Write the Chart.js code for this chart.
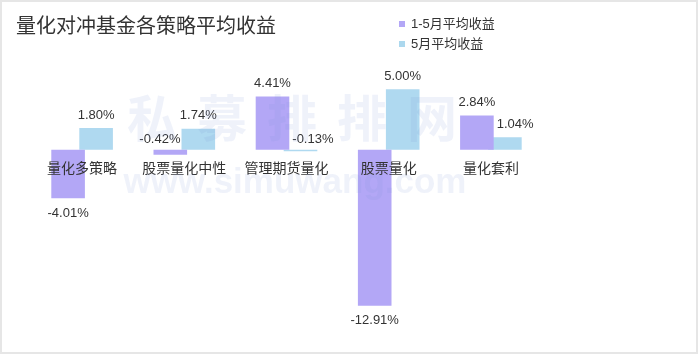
<!DOCTYPE html>
<html>
<head>
<meta charset="utf-8">
<script src="https://cdn.jsdelivr.net/npm/chart.js@4/dist/chart.umd.min.js"></script>
<style>
html,body{margin:0;padding:0;background:#fff;}
#wrap{width:700px;height:355px;position:relative;}
</style>
</head>
<body>
<div id="wrap"><canvas id="c" width="700" height="355"></canvas></div>
<script>
const titleText = '量化对冲基金各策略平均收益';
const categories = ['量化多策略', '股票量化中性', '管理期货量化', '股票量化', '量化套利'];
const seriesNames = ['1-5月平均收益', '5月平均收益'];
const avgJanMay = [-4.01, -0.42, 4.41, -12.91, 2.84];
const avgMay = [1.80, 1.74, -0.13, 5.00, 1.04];
const watermarkCN = '私募排排网';
const watermarkEN = 'www.simuwang.com';

const FONT = "'Liberation Sans', 'Noto Sans CJK SC', sans-serif";
const CJK = "'Noto Sans CJK SC', 'Liberation Sans', sans-serif";
const PURPLE = '#b3a7f6';
const BLUE = 'rgba(164,212,238,0.88)';
const LEGEND_BLUE = '#acd8ee';
const TEXT = '#333333';

const decor = {
  id: 'decor',
  beforeDraw(chart) {
    const ctx = chart.ctx;
    ctx.save();
    ctx.fillStyle = '#fff';
    ctx.fillRect(0, 0, chart.width, chart.height);
    ctx.restore();
  },
  afterDatasetsDraw(chart) {
    const ctx = chart.ctx;
    const m0 = chart.getDatasetMeta(0).data;
    const m1 = chart.getDatasetMeta(1).data;
    ctx.save();
    ctx.font = '13px ' + FONT;
    ctx.fillStyle = TEXT;
    ctx.textBaseline = 'middle';
    chart.data.datasets.forEach((ds, di) => {
      const meta = chart.getDatasetMeta(di).data;
      ds.data.forEach((v, i) => {
        const bar = meta[i];
        const label = v.toFixed(2) + '%';
        const w = ctx.measureText(label).width;
        let y;
        const small = v < 0 && Math.abs(v) < 1;
        if (v >= 0) y = bar.y - 13;
        else if (!small) y = bar.y + 15;
        else y = bar.base - 10;
        let x = bar.x, align = 'center';
        if (di === 0) {
          const other = m1[i];
          const oLeft = other.x - other.width / 2;
          const oTop = Math.min(other.y, other.base), oBot = Math.max(other.y, other.base);
          if (x + w / 2 > oLeft && y > oTop && y < oBot) { x = oLeft - 1; align = 'right'; }
        } else {
          const other = m0[i];
          const oRight = other.x + other.width / 2;
          const oTop = Math.min(other.y, other.base), oBot = Math.max(other.y, other.base);
          if (x - w / 2 < oRight && y > oTop - 8 && y < oBot) { x = oRight + 3; align = 'left'; }
        }
        ctx.textAlign = align;
        ctx.fillText(label, x, y);
      });
    });
    ctx.restore();
  },
  afterDraw(chart) {
    const ctx = chart.ctx;
    ctx.save();
    // watermark
    ctx.fillStyle = 'rgba(120,150,215,0.12)';
    ctx.textAlign = 'center';
    ctx.textBaseline = 'middle';
    ctx.font = 'bold 50px ' + CJK;
    try { ctx.letterSpacing = '20px'; } catch (e) {}
    ctx.fillText(watermarkCN, 302, 118);
    try { ctx.letterSpacing = '0px'; } catch (e) {}
    ctx.font = 'bold 35px ' + FONT;
    ctx.fillText(watermarkEN, 295, 183);
    // title
    ctx.fillStyle = TEXT;
    ctx.textAlign = 'left';
    ctx.font = '20px ' + CJK;
    ctx.fillText(titleText, 16, 25);
    // legend
    ctx.font = '13px ' + FONT;
    const cols = [PURPLE, LEGEND_BLUE];
    seriesNames.forEach((n, k) => {
      const cy = 24 + k * 20;
      ctx.fillStyle = cols[k];
      ctx.fillRect(399, cy - 3, 6, 6);
      ctx.fillStyle = TEXT;
      ctx.fillText(n, 411, cy);
    });
    // frame
    ctx.strokeStyle = '#e6e6e6';
    ctx.lineWidth = 2;
    ctx.strokeRect(1, 1, 696, 352);
    ctx.restore();
  }
};

new Chart(document.getElementById('c'), {
  type: 'bar',
  data: {
    labels: categories,
    datasets: [
      { label: seriesNames[0], data: avgJanMay, backgroundColor: PURPLE },
      { label: seriesNames[1], data: avgMay, backgroundColor: BLUE }
    ]
  },
  options: {
    responsive: false,
    animation: false,
    devicePixelRatio: 1,
    categoryPercentage: 0.548,
    barPercentage: 1.2,
    layout: { padding: { left: 31, right: 158, top: 53, bottom: 36 } },
    plugins: { legend: { display: false }, title: { display: false }, tooltip: { enabled: false } },
    scales: {
      x: {
        position: { y: 0 },
        grid: { display: false, drawTicks: false },
        border: { display: false },
        ticks: { z: 1, color: TEXT, font: { size: 14, family: CJK }, padding: 10, maxRotation: 0, autoSkip: false }
      },
      y: {
        display: false,
        min: -14,
        max: 8
      }
    }
  },
  plugins: [decor]
});
</script>
</body>
</html>
